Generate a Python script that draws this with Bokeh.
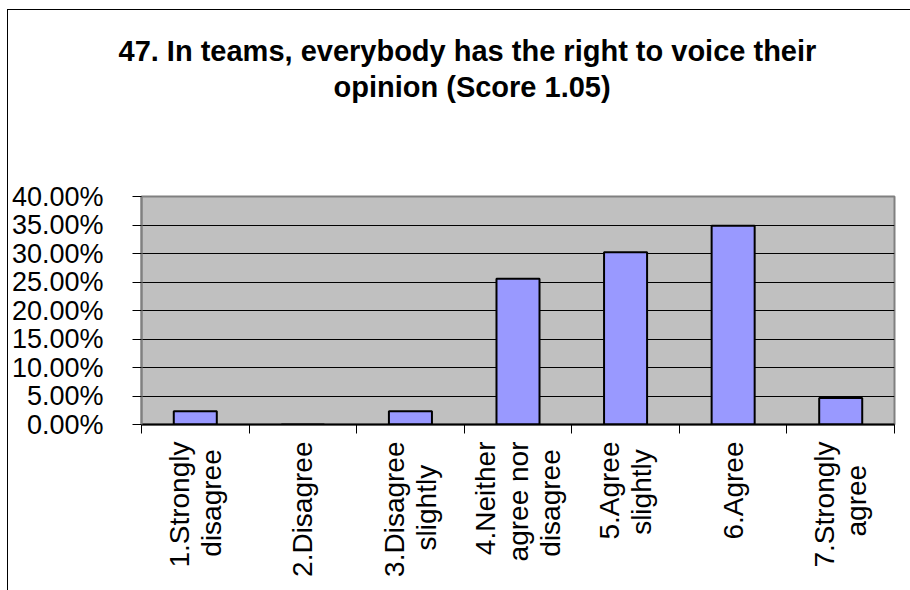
from bokeh.plotting import figure
from bokeh.models import FixedTicker, PrintfTickFormatter, Range1d, ColumnDataSource, Title
from bokeh.embed import file_html
from bokeh.resources import INLINE
from math import pi

categories = ["1.Strongly\ndisagree", "2.Disagree", "3.Disagree\nslightly",
              "4.Neither\nagree nor\ndisagree", "5.Agree\nslightly", "6.Agree",
              "7.Strongly\nagree"]
values = [2.33, 0.0, 2.33, 25.58, 30.23, 34.88, 4.65]
y_ticks = [0, 5, 10, 15, 20, 25, 30, 35, 40]
title_lines = ["47. In teams, everybody has the right to voice their",
               "opinion (Score 1.05)"]

FONT = "Liberation Sans"
NBSP = "\u00a0"
# trailing padding (in no-break spaces) that centres the shorter lines of each
# rotated label, whose lines Bokeh otherwise aligns at the axis end
line_pad = [[0, 1], [0], [0, 3], [0, 0, 1], [0, 1], [0], [0, 3]]

p = figure(width=903, height=581, output_backend="svg", toolbar_location=None,
           x_range=Range1d(0, len(categories)), y_range=Range1d(0, 40),
           min_border_left=133, min_border_right=17, min_border_top=186, min_border_bottom=167)
p.margin = (9, 0, 0, 7)
p.styles = {"border-left": "1px solid black", "border-top": "1px solid black"}

p.background_fill_color = "#C0C0C0"
p.border_fill_color = "white"
p.outline_line_color = "#808080"
p.outline_line_width = 2

centers = [i + 0.5 for i in range(len(categories))]
src = ColumnDataSource(dict(x=centers, top=values))
p.vbar(x="x", top="top", bottom=0, width=0.4, source=src,
       fill_color="#9999FF", line_color="black", line_width=2)

# title: one Title per line; the first title added to "above" sits nearest the plot
title_style = dict(text_font=FONT, text_font_size="29px", text_font_style="bold",
                   text_color="black", align="left")
p.title.text = title_lines[0]
p.title.offset = -23
p.title.standoff = 4
for k, v in title_style.items():
    setattr(p.title, k, v)
# blank spacer between the title block and the plot area
p.add_layout(Title(text=" ", standoff=60, **title_style), "above")
p.add_layout(Title(text=title_lines[1], offset=192, standoff=0, **title_style), "above")

# y axis
p.yaxis.ticker = FixedTicker(ticks=y_ticks)
p.yaxis.formatter = PrintfTickFormatter(format="%.2f%%")
p.yaxis.major_label_text_font = FONT
p.yaxis.major_label_text_font_size = "27px"
p.yaxis.major_label_text_color = "black"
p.yaxis.major_tick_out = 9
p.yaxis.major_tick_in = 0
p.yaxis.minor_tick_line_color = None
p.yaxis.major_tick_line_color = "black"
p.yaxis.axis_line_color = "#808080"
p.yaxis.axis_line_width = 2
p.yaxis.major_label_standoff = 29

# x axis
labels = []
for lab, pads in zip(categories, line_pad):
    labels.append("\n".join(line + NBSP * n for line, n in zip(lab.split("\n"), pads)))
p.xaxis.ticker = FixedTicker(ticks=centers, minor_ticks=list(range(len(categories) + 1)))
p.xaxis.major_label_overrides = {c: lab for c, lab in zip(centers, labels)}
p.xaxis.major_label_orientation = pi / 2
p.xaxis.major_label_text_font = FONT
p.xaxis.major_label_text_font_size = "28px"
p.xaxis.major_label_text_color = "black"
p.xaxis.major_label_text_line_height = 1.05
p.xaxis.major_tick_line_color = None
p.xaxis.major_tick_out = 0
p.xaxis.major_tick_in = 0
p.xaxis.minor_tick_out = 9
p.xaxis.minor_tick_in = 0
p.xaxis.minor_tick_line_color = "black"
p.xaxis.axis_line_color = "black"
p.xaxis.axis_line_width = 2
p.xaxis.major_label_standoff = 8

p.xgrid.visible = False
p.ygrid.ticker = FixedTicker(ticks=y_ticks)
p.ygrid.grid_line_color = "black"
p.ygrid.grid_line_width = 1

open("out.html", "w").write(file_html(p, INLINE))
